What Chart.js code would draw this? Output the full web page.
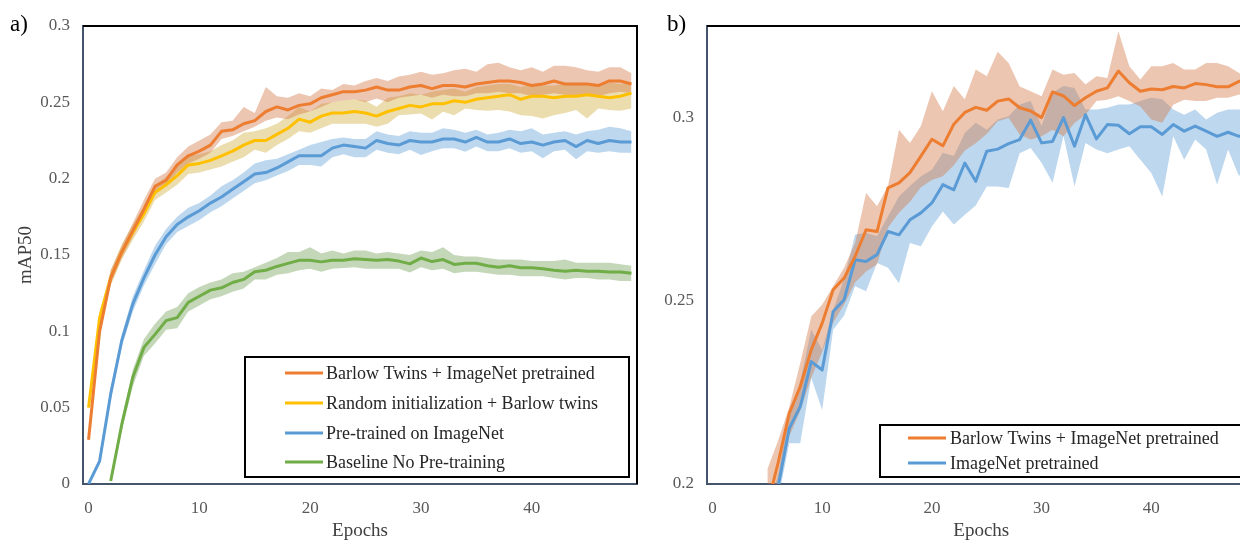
<!DOCTYPE html>
<html><head><meta charset="utf-8">
<script src="https://cdn.jsdelivr.net/npm/chart.js@4.4.1/dist/chart.umd.min.js"></script>
<style>
html,body{margin:0;padding:0;background:#fff;}
body{width:1240px;height:544px;overflow:hidden;position:relative;}
.panel{position:absolute;top:0;}
.tag{position:absolute;font-family:'Liberation Serif',serif;font-size:23px;color:#000;line-height:1;z-index:2;}
</style></head><body>
<canvas id="chartA" class="panel" style="left:0" width="650" height="544"></canvas>
<canvas id="chartB" class="panel" style="left:650px" width="620" height="544"></canvas>
<div class="tag" style="left:10px;top:12px">a)</div>
<div class="tag" style="left:667px;top:12px">b)</div>
<script>
// ---------- data ----------
const epochs = [0,1,2,3,4,5,6,7,8,9,10,11,12,13,14,15,16,17,18,19,20,21,22,23,24,25,26,27,28,29,30,31,32,33,34,35,36,37,38,39,40,41,42,43,44,45,46,47,48,49];
const xTicks = [0,10,20,30,40];
const yTicksA = [0,0.05,0.1,0.15,0.2,0.25,0.3];
const yTicksB = [0.2,0.25,0.3];
const namesA = ['Barlow Twins + ImageNet pretrained','Random initialization + Barlow twins','Pre-trained on ImageNet','Baseline No Pre-training'];
const namesB = ['Barlow Twins + ImageNet pretrained','ImageNet pretrained'];

// panel a) Barlow Twins + ImageNet pretrained
const aBarlow   = [0.029,0.100,0.135,0.152,0.166,0.180,0.195,0.199,0.209,0.215,0.218,0.222,0.231,0.232,0.236,0.238,0.244,0.247,0.245,0.248,0.249,0.253,0.255,0.257,0.257,0.258,0.260,0.258,0.258,0.260,0.261,0.259,0.261,0.261,0.260,0.262,0.263,0.264,0.264,0.263,0.261,0.262,0.264,0.262,0.262,0.262,0.261,0.264,0.264,0.262];
const aBarlowHi = [0.031,0.104,0.140,0.156,0.171,0.186,0.200,0.204,0.214,0.221,0.225,0.229,0.237,0.238,0.247,0.243,0.260,0.254,0.253,0.256,0.254,0.259,0.258,0.262,0.261,0.264,0.266,0.264,0.267,0.268,0.270,0.268,0.269,0.271,0.272,0.270,0.275,0.276,0.273,0.271,0.273,0.270,0.274,0.274,0.273,0.271,0.270,0.273,0.273,0.269];
const aBarlowLo = [0.027,0.097,0.131,0.148,0.162,0.176,0.190,0.195,0.204,0.210,0.213,0.217,0.226,0.228,0.231,0.234,0.238,0.240,0.239,0.242,0.244,0.247,0.250,0.251,0.252,0.250,0.2525,0.250,0.253,0.254,0.255,0.253,0.255,0.254,0.254,0.256,0.256,0.257,0.256,0.256,0.254,0.255,0.256,0.255,0.254,0.255,0.254,0.256,0.257,0.256];
// panel a) Random initialization + Barlow twins
const aRandom   = [0.050,0.109,0.135,0.152,0.165,0.177,0.191,0.196,0.202,0.209,0.210,0.212,0.215,0.218,0.222,0.225,0.225,0.229,0.233,0.239,0.237,0.241,0.243,0.243,0.244,0.243,0.241,0.244,0.246,0.248,0.247,0.249,0.249,0.251,0.250,0.252,0.253,0.254,0.255,0.252,0.254,0.254,0.253,0.254,0.254,0.255,0.254,0.253,0.254,0.256];
const aRandomHi = [0.052,0.113,0.140,0.157,0.170,0.182,0.196,0.201,0.208,0.215,0.216,0.218,0.222,0.225,0.230,0.231,0.233,0.236,0.241,0.247,0.244,0.249,0.250,0.251,0.252,0.251,0.2471,0.253,0.254,0.256,0.255,0.257,0.258,0.259,0.257,0.260,0.261,0.262,0.262,0.260,0.262,0.261,0.261,0.262,0.263,0.262,0.262,0.263,0.262,0.263];
const aRandomLo = [0.048,0.105,0.130,0.147,0.160,0.172,0.186,0.191,0.196,0.203,0.204,0.206,0.208,0.211,0.214,0.219,0.217,0.222,0.226,0.231,0.230,0.233,0.236,0.236,0.236,0.236,0.234,0.236,0.2416,0.242,0.2427,0.2387,0.2438,0.2416,0.246,0.245,0.2445,0.2449,0.244,0.2416,0.241,0.2394,0.2416,0.243,0.2449,0.2394,0.246,0.2449,0.2445,0.246];
// panel a) Pre-trained on ImageNet
const aImgNet   = [0.000,0.015,0.059,0.094,0.118,0.135,0.150,0.162,0.170,0.175,0.179,0.184,0.188,0.193,0.198,0.203,0.204,0.207,0.211,0.215,0.215,0.215,0.220,0.222,0.221,0.220,0.225,0.223,0.222,0.225,0.224,0.224,0.226,0.226,0.224,0.227,0.224,0.224,0.226,0.223,0.224,0.222,0.224,0.225,0.221,0.225,0.223,0.225,0.224,0.224];
const aImgNetHi = [0.001,0.017,0.063,0.098,0.123,0.140,0.156,0.167,0.175,0.181,0.184,0.189,0.195,0.199,0.204,0.210,0.212,0.213,0.216,0.219,0.222,0.224,0.226,0.227,0.226,0.226,0.231,0.229,0.228,0.231,0.230,0.230,0.233,0.232,0.230,0.232,0.229,0.230,0.232,0.231,0.233,0.229,0.230,0.231,0.229,0.231,0.232,0.234,0.233,0.231];
const aImgNetLo = [-0.001,0.013,0.055,0.090,0.113,0.130,0.144,0.157,0.165,0.169,0.173,0.178,0.182,0.187,0.192,0.197,0.199,0.202,0.205,0.209,0.209,0.208,0.214,0.216,0.214,0.214,0.219,0.217,0.216,0.219,0.2155,0.218,0.220,0.220,0.2177,0.221,0.218,0.218,0.220,0.217,0.218,0.2133,0.218,0.219,0.2127,0.218,0.217,0.218,0.217,0.217];
// panel a) Baseline No Pre-training
const aBase   = [null,null,0.002,0.039,0.070,0.0895,0.098,0.107,0.109,0.119,0.123,0.127,0.1285,0.132,0.134,0.139,0.140,0.1425,0.1445,0.1465,0.1465,0.1455,0.1465,0.1465,0.1475,0.147,0.1465,0.147,0.146,0.1442,0.148,0.1457,0.147,0.1438,0.1446,0.1446,0.143,0.142,0.143,0.1416,0.1416,0.141,0.140,0.1394,0.140,0.1394,0.1394,0.1388,0.1388,0.138];
const aBaseHi = [null,null,0.004,0.043,0.075,0.095,0.105,0.113,0.116,0.125,0.129,0.132,0.134,0.138,0.139,0.142,0.145,0.148,0.152,0.152,0.155,0.151,0.153,0.151,0.153,0.153,0.151,0.152,0.151,0.150,0.153,0.152,0.155,0.150,0.149,0.149,0.148,0.147,0.147,0.147,0.146,0.146,0.146,0.147,0.145,0.145,0.145,0.145,0.144,0.143];
const aBaseLo = [null,null,0.000,0.035,0.064,0.084,0.092,0.101,0.102,0.113,0.117,0.121,0.123,0.126,0.128,0.134,0.134,0.137,0.138,0.140,0.141,0.139,0.141,0.1415,0.142,0.141,0.141,0.141,0.141,0.1385,0.142,0.140,0.141,0.138,0.139,0.139,0.138,0.137,0.137,0.136,0.136,0.136,0.135,0.134,0.135,0.135,0.134,0.134,0.133,0.133];

// panel b) Barlow Twins + ImageNet pretrained
const bBarlow   = [null,null,null,null,null,0.194,0.206,0.2193,0.2266,0.2366,0.2439,0.253,0.2562,0.2621,0.2694,0.2689,0.2808,0.2822,0.285,0.2895,0.2941,0.2923,0.2982,0.3014,0.3028,0.302,0.3045,0.3051,0.3027,0.3018,0.300,0.307,0.3059,0.3033,0.3054,0.3072,0.3081,0.3127,0.3095,0.3072,0.3078,0.3076,0.3085,0.3081,0.3093,0.309,0.3084,0.3084,0.3099,0.310];
const bBarlowHi = [null,null,null,null,null,0.204,0.212,0.221,0.233,0.2457,0.249,0.254,0.259,0.2658,0.2794,0.2758,0.2813,0.2967,0.2931,0.2977,0.3072,0.3017,0.3086,0.305,0.3131,0.3113,0.318,0.3149,0.3085,0.3072,0.3058,0.3131,0.3117,0.3122,0.309,0.3113,0.3108,0.3236,0.314,0.3104,0.314,0.314,0.3149,0.3131,0.3131,0.3149,0.3149,0.314,0.3122,0.311];
const bBarlowLo = [null,null,null,null,null,0.188,0.200,0.213,0.220,0.229,0.236,0.244,0.249,0.255,0.258,0.260,0.270,0.274,0.277,0.281,0.283,0.284,0.287,0.291,0.293,0.2955,0.299,0.2999,0.2954,0.294,0.2949,0.2967,0.2949,0.2985,0.3008,0.3045,0.3049,0.3058,0.3045,0.3030,0.2995,0.2986,0.3035,0.3049,0.3045,0.3045,0.3054,0.3054,0.3063,0.306];
// panel b) ImageNet pretrained
const bImgNet   = [null,null,null,null,null,0.186,0.1995,0.2152,0.2211,0.2334,0.2311,0.2471,0.2503,0.2612,0.2607,0.2626,0.2689,0.268,0.2721,0.274,0.2767,0.2817,0.2803,0.2876,0.2826,0.2908,0.2914,0.2929,0.294,0.2993,0.2931,0.2935,0.300,0.2922,0.3008,0.2942,0.2981,0.2979,0.2956,0.2975,0.2975,0.2954,0.2981,0.2963,0.2977,0.2963,0.2949,0.296,0.2949,0.296];
const bImgNetHi = [null,null,null,null,null,0.192,0.203,0.2193,0.228,0.2421,0.2366,0.2475,0.2560,0.2681,0.2685,0.2676,0.2731,0.2785,0.2813,0.284,0.2858,0.2904,0.2895,0.2958,0.2986,0.2967,0.2995,0.3004,0.3036,0.3045,0.2977,0.3068,0.3086,0.3081,0.3022,0.3022,0.3027,0.3036,0.3036,0.3045,0.3054,0.3050,0.3022,0.3008,0.3022,0.2995,0.3013,0.3022,0.3022,0.303];
const bImgNetLo = [null,null,null,null,null,0.180,0.196,0.2111,0.2111,0.229,0.2202,0.2421,0.246,0.254,0.2526,0.2603,0.259,0.2548,0.2658,0.2649,0.2703,0.2744,0.2708,0.2735,0.276,0.2812,0.2812,0.2808,0.2903,0.2917,0.2877,0.2822,0.2950,0.2812,0.2931,0.2913,0.2903,0.2913,0.2922,0.2885,0.2849,0.2785,0.2949,0.2885,0.294,0.2913,0.2817,0.2913,0.284,0.29];

// ---------- styles ----------
const C = {orange:'#ED7D31', yellow:'#FFC000', blue:'#5B9BD5', green:'#70AD47'};
const BAND = {orange:'rgba(210,120,70,0.42)', yellow:'rgba(205,165,45,0.38)', blue:'rgba(91,155,213,0.40)', green:'rgba(100,150,70,0.38)'};
const FONT = 'Liberation Serif';
Chart.defaults.font.family = FONT;

function series(label, mean, hi, lo, color, band, ord) {
  return [
    {label, data: mean, borderColor: color, backgroundColor: color, borderWidth: 3, pointRadius: 0, fill: false, tension: 0, order: ord, isMain: true},
    {label: label + ' (upper)', data: hi, borderColor: 'rgba(0,0,0,0)', borderWidth: 0, backgroundColor: band, pointRadius: 0, fill: '+1', tension: 0, order: 20 + ord},
    {label: label + ' (lower)', data: lo, borderColor: 'rgba(0,0,0,0)', borderWidth: 0, backgroundColor: band, pointRadius: 0, fill: false, tension: 0, order: 30 + ord}
  ];
}

const framePlugin = {
  id: 'frame',
  afterDatasetsDraw(chart) {
    const {ctx, chartArea: a} = chart;
    ctx.save();
    ctx.strokeStyle = '#000'; ctx.lineWidth = 2;
    ctx.beginPath(); ctx.moveTo(a.left, a.top); ctx.lineTo(a.right, a.top); ctx.lineTo(a.right, a.bottom); ctx.stroke();
    ctx.restore();
  }
};

const boxLegendPlugin = {
  id: 'boxLegend',
  afterDraw(chart, args, o) {
    if (!o || !o.box) return;
    const ctx = chart.ctx;
    const [x0, y0, x1, y1] = o.box;
    ctx.save();
    ctx.fillStyle = '#fff'; ctx.fillRect(x0, y0, x1 - x0, y1 - y0);
    ctx.strokeStyle = '#000'; ctx.lineWidth = 2; ctx.strokeRect(x0, y0, x1 - x0, y1 - y0);
    const mains = chart.data.datasets.filter(d => d.isMain);
    ctx.font = o.fontSize + 'px "' + FONT + '"';
    ctx.textBaseline = 'middle'; ctx.textAlign = 'left';
    mains.forEach((d, i) => {
      const y = o.rows[i];
      ctx.strokeStyle = d.borderColor; ctx.lineWidth = 3;
      ctx.beginPath(); ctx.moveTo(o.swatch[0], y); ctx.lineTo(o.swatch[1], y); ctx.stroke();
      ctx.fillStyle = '#262626';
      ctx.fillText(d.label, o.textX, y + 1);
    });
    ctx.restore();
  }
};

function fmt(v) { return String(Math.round(v * 1000) / 1000); }

function makeChart(id, datasets, yMin, yMax, yTicks, yWidth, padRight, yTitle, legend) {
  return new Chart(document.getElementById(id), {
    type: 'line',
    data: {labels: epochs, datasets},
    plugins: [framePlugin, boxLegendPlugin],
    options: {
      responsive: false, animation: false, devicePixelRatio: 1,
      layout: {padding: {top: 26, right: padRight, bottom: 0, left: 0}},
      plugins: {legend: {display: false}, tooltip: {enabled: false}, filler: {drawTime: 'beforeDatasetsDraw'}, boxLegend: legend},
      elements: {line: {borderJoinStyle: 'round'}},
      scales: {
        x: {
          type: 'linear', min: -0.5, max: 49.5, bounds: 'data',
          afterBuildTicks: s => { s.ticks = xTicks.map(v => ({value: v})); },
          afterFit: s => { s.height = 60; },
          grid: {display: false, drawTicks: false},
          border: {display: true, color: '#44546A', width: 2},
          ticks: {padding: 14, color: '#595959', font: {size: 17}, maxRotation: 0, autoSkip: false, callback: v => fmt(v)},
          title: {display: true, text: 'Epochs', color: '#404040', font: {size: 19}, padding: {top: 0, bottom: 2}}
        },
        y: {
          type: 'linear', min: yMin, max: yMax, bounds: 'data',
          afterBuildTicks: s => { s.ticks = yTicks.map(v => ({value: v})); },
          afterFit: s => { s.width = yWidth; },
          grid: {display: false, drawTicks: false},
          border: {display: true, color: '#44546A', width: 2},
          ticks: {padding: 13, color: '#595959', font: {size: 17}, autoSkip: false, callback: v => fmt(v)},
          title: {display: !!yTitle, text: yTitle || '', color: '#404040', font: {size: 19}, padding: {top: 15, bottom: 0}}
        }
      }
    }
  });
}

const dsA = [
  ...series(namesA[0], aBarlow, aBarlowHi, aBarlowLo, C.orange, BAND.orange, 1),
  ...series(namesA[1], aRandom, aRandomHi, aRandomLo, C.yellow, BAND.yellow, 2),
  ...series(namesA[2], aImgNet, aImgNetHi, aImgNetLo, C.blue, BAND.blue, 3),
  ...series(namesA[3], aBase, aBaseHi, aBaseLo, C.green, BAND.green, 4)
];
const dsB = [
  ...series(namesB[0], bBarlow, bBarlowHi, bBarlowLo, C.orange, BAND.orange, 1),
  ...series(namesB[1], bImgNet, bImgNetHi, bImgNetLo, C.blue, BAND.blue, 2)
];

makeChart('chartA', dsA, 0, 0.3, yTicksA, 83, 13, 'mAP50',
  {box: [245, 357, 629, 477], rows: [373, 403, 433, 462], swatch: [285, 323], textX: 326, fontSize: 18});
makeChart('chartB', dsB, 0.2, 0.325, yTicksB, 57, 14.5, null,
  {box: [230, 425, 597, 477], rows: [438, 463], swatch: [258, 296], textX: 300, fontSize: 18});
</script>
</body></html>
